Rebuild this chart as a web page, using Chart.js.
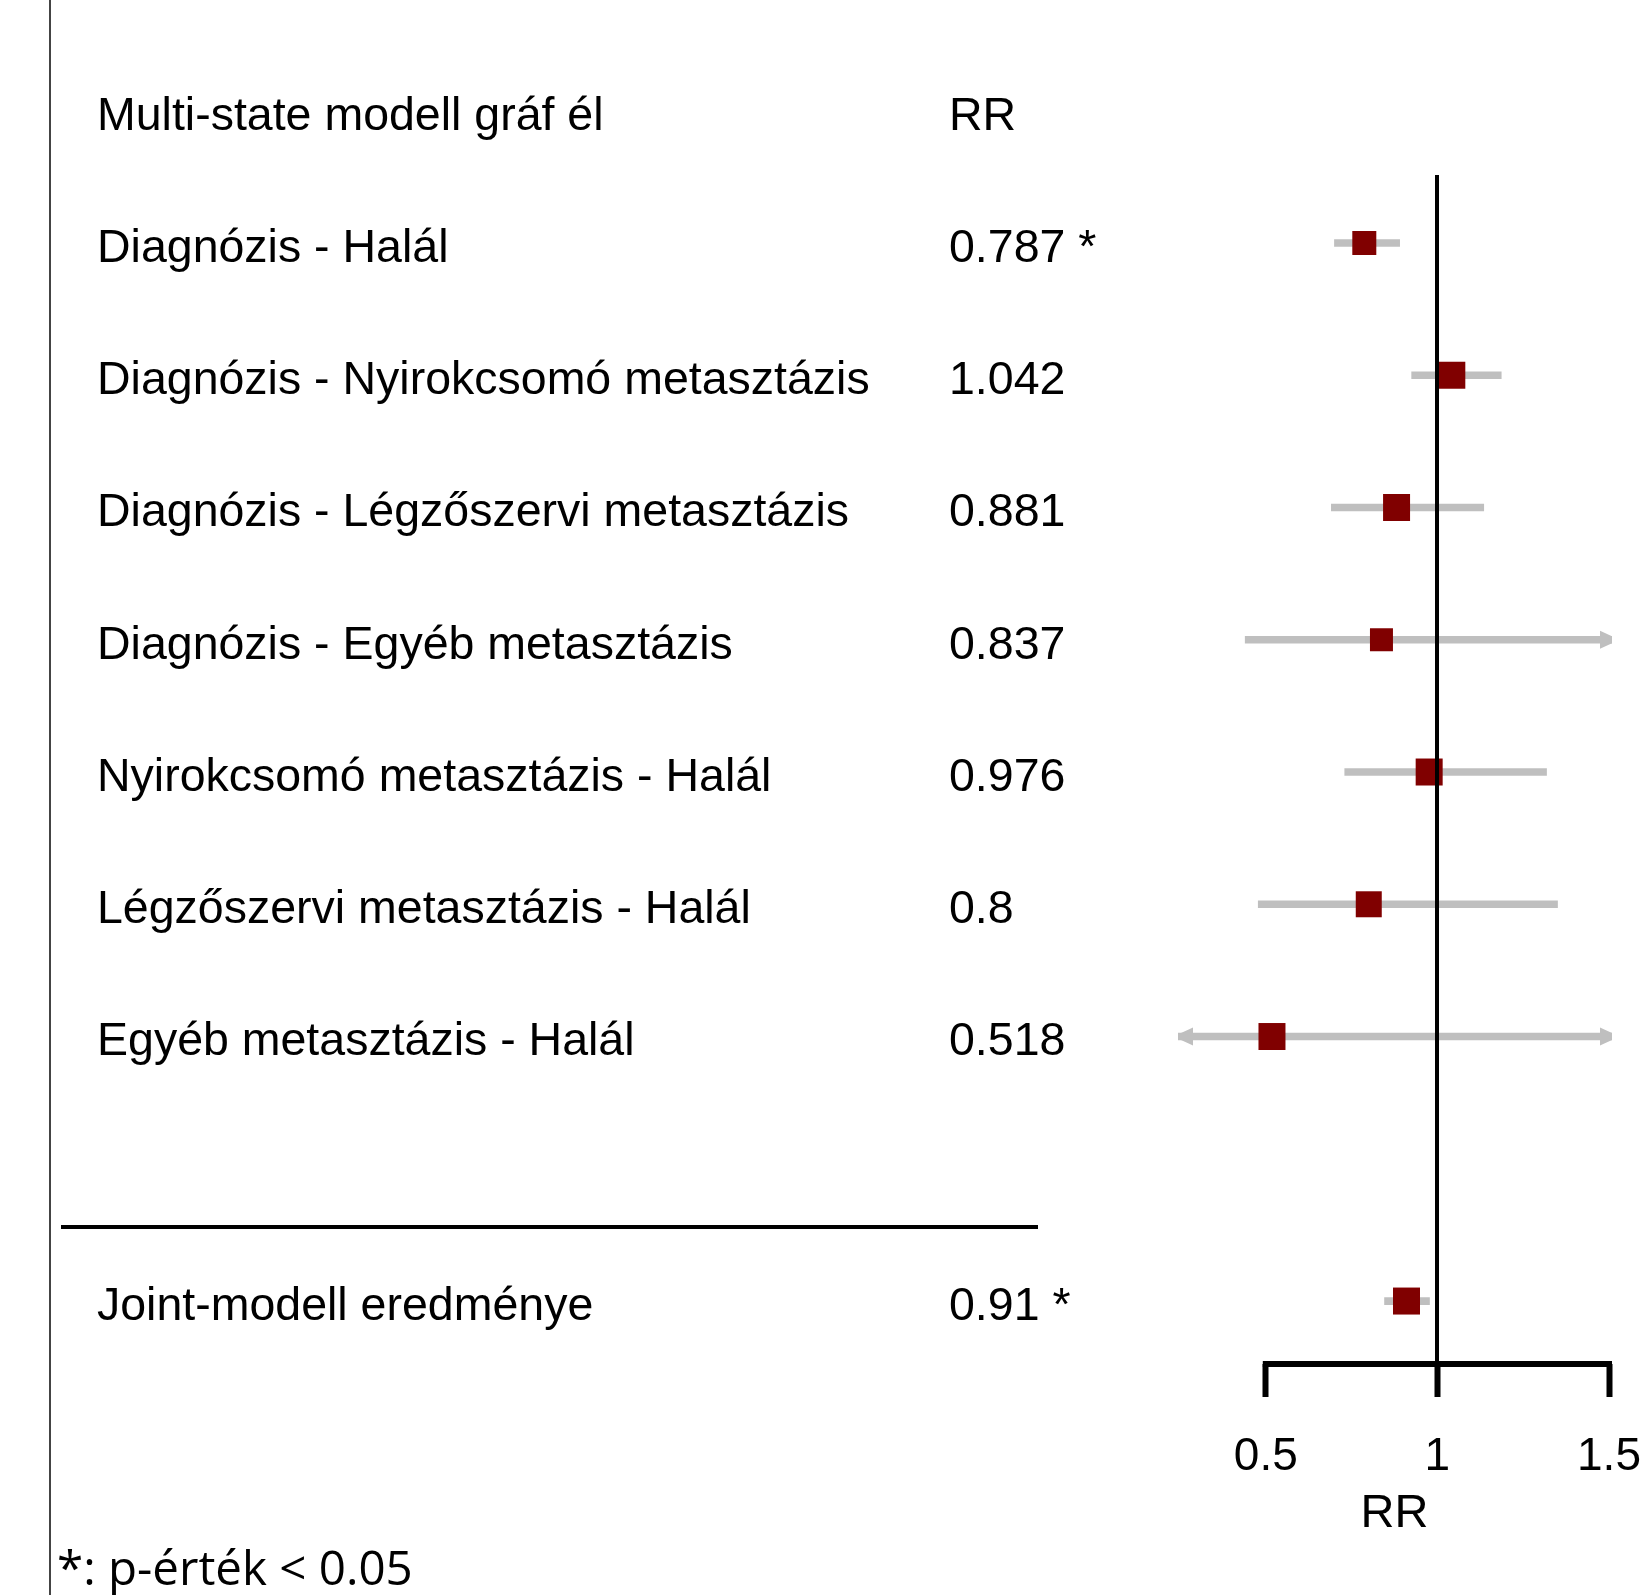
<!DOCTYPE html>
<html>
<head>
<meta charset="utf-8">
<script src="https://cdn.jsdelivr.net/npm/chart.js@4.4.1/dist/chart.umd.min.js"></script>
<style>
  html, body { margin: 0; padding: 0; background: #fff; }
  canvas { display: block; }
</style>
</head>
<body>
<canvas id="forest" width="1641" height="1595"></canvas>
<script>
// ---- data -------------------------------------------------------------
const headerLabel = 'Multi-state modell gráf él';
const headerValue = 'RR';
const edges = [
  'Diagnózis - Halál',
  'Diagnózis - Nyirokcsomó metasztázis',
  'Diagnózis - Légzőszervi metasztázis',
  'Diagnózis - Egyéb metasztázis',
  'Nyirokcsomó metasztázis - Halál',
  'Légzőszervi metasztázis - Halál',
  'Egyéb metasztázis - Halál',
  'Joint-modell eredménye'
];
const rowIndex    = [1, 2, 3, 4, 5, 6, 7, 9];
const rr          = [0.787, 1.042, 0.881, 0.837, 0.976, 0.8, 0.518, 0.91];
const ciLow       = [0.700, 0.925, 0.691, 0.440, 0.730, 0.478, 0.170, 0.846];
const ciHigh      = [0.890, 1.186, 1.135, 1.596, 1.318, 1.350, 1.580, 0.977];
const significant = [true, false, false, false, false, false, false, true];
const tickValues  = [0.5, 1, 1.5];
const tickLabels  = ['0.5', '1', '1.5'];
const axisTitle   = 'RR';
const footnote    = '*: p-érték < 0.05';

// ---- style ------------------------------------------------------------
const xRange   = [0.25, 1.5];          // clipping range of the interval lines
const yRange   = [0.486, 9.476];       // row positions (reversed)
const boxSide  = [24, 27, 27, 23, 27, 26, 27, 27];
const BOX_COLOR = '#800000';
const CI_COLOR  = '#bfbfbf';
const TEXT_FONT = '46.5px "Liberation Sans", Arial, sans-serif';
const FOOT_FONT = '47.5px "Open Sans", sans-serif';
const LABEL_X = 97;
const VALUE_X = 949;
const TEXT_DROP = 6;                    // table text sits slightly below the box centres

const forestDecor = {
  id: 'forestDecor',
  beforeDraw(chart) {
    const { ctx, width, height } = chart;
    ctx.save();
    ctx.fillStyle = '#fff';
    ctx.fillRect(0, 0, width, height);
    ctx.restore();
  },
  beforeDatasetsDraw(chart) {
    const { ctx, scales: { x, y } } = chart;
    ctx.save();

    // left frame line
    ctx.strokeStyle = '#444';
    ctx.lineWidth = 2;
    ctx.beginPath();
    ctx.moveTo(50, 0);
    ctx.lineTo(50, chart.height);
    ctx.stroke();

    // table columns
    ctx.fillStyle = '#000';
    ctx.font = TEXT_FONT;
    ctx.textAlign = 'left';
    ctx.textBaseline = 'middle';
    const headY = y.getPixelForValue(0) + TEXT_DROP;
    ctx.fillText(headerLabel, LABEL_X, headY);
    ctx.fillText(headerValue, VALUE_X, headY);
    edges.forEach((name, i) => {
      const py = y.getPixelForValue(rowIndex[i]) + TEXT_DROP;
      ctx.fillText(name, LABEL_X, py);
      ctx.fillText(String(rr[i]) + (significant[i] ? ' *' : ''), VALUE_X, py);
    });

    // separator above the pooled estimate
    const sy = y.getPixelForValue(8.44);
    ctx.strokeStyle = '#000';
    ctx.lineWidth = 4;
    ctx.beginPath();
    ctx.moveTo(61, sy);
    ctx.lineTo(1038, sy);
    ctx.stroke();

    // axis baseline spanning the labelled ticks
    ctx.lineWidth = 6;
    ctx.beginPath();
    ctx.moveTo(x.getPixelForValue(tickValues[0]) - 3, x.top);
    ctx.lineTo(x.getPixelForValue(tickValues[tickValues.length - 1]) + 3, x.top);
    ctx.stroke();

    // footnote
    ctx.font = FOOT_FONT;
    ctx.textBaseline = 'alphabetic';
    ctx.fillText(footnote, 57, 1585);
    ctx.restore();
  },
  afterDatasetsDraw(chart) {
    const { ctx, chartArea, scales: { x, y } } = chart;
    ctx.save();

    // arrow heads where an interval runs past the plotted range
    ctx.fillStyle = CI_COLOR;
    rowIndex.forEach((r, i) => {
      const py = y.getPixelForValue(r);
      if (ciHigh[i] > xRange[1]) {
        const tip = chartArea.right + 3;
        ctx.beginPath();
        ctx.moveTo(tip, py - 3.5);
        ctx.lineTo(tip, py + 3.5);
        ctx.lineTo(tip - 12, py + 9);
        ctx.lineTo(tip - 12, py - 9);
        ctx.closePath();
        ctx.fill();
      }
      if (ciLow[i] < xRange[0]) {
        const tip = chartArea.left + 1;
        ctx.beginPath();
        ctx.moveTo(tip, py - 3.5);
        ctx.lineTo(tip, py + 3.5);
        ctx.lineTo(tip + 12, py + 9);
        ctx.lineTo(tip + 12, py - 9);
        ctx.closePath();
        ctx.fill();
      }
    });

    // line of no effect (RR = 1)
    const px = Math.round(x.getPixelForValue(1));
    ctx.strokeStyle = '#000';
    ctx.lineWidth = 4;
    ctx.beginPath();
    ctx.moveTo(px, chartArea.top);
    ctx.lineTo(px, chartArea.bottom);
    ctx.stroke();
    ctx.restore();
  }
};

new Chart(document.getElementById('forest'), {
  type: 'scatter',
  data: {
    datasets: [
      {
        type: 'bar',
        indexAxis: 'y',
        data: rowIndex.map((r, i) => ({ y: r, x: [ciLow[i], ciHigh[i]] })),
        backgroundColor: CI_COLOR,
        borderWidth: 0,
        borderSkipped: false,
        barThickness: 7,
        clip: { left: 2, right: 3, top: false, bottom: false },
        order: 2
      },
      {
        type: 'scatter',
        data: rowIndex.map((r, i) => ({ x: rr[i], y: r })),
        pointStyle: 'rect',
        pointRadius: boxSide.map(s => s / Math.SQRT2),
        backgroundColor: BOX_COLOR,
        borderWidth: 0,
        clip: false,
        order: 1
      }
    ]
  },
  options: {
    responsive: false,
    devicePixelRatio: 1,
    animation: false,
    events: [],
    layout: { padding: { left: 1180, right: 32, top: 175, bottom: 0 } },
    plugins: { legend: { display: false }, tooltip: { enabled: false } },
    scales: {
      x: {
        type: 'linear',
        position: 'bottom',
        offset: false,
        min: xRange[0],
        max: xRange[1],
        afterBuildTicks: (scale) => { scale.ticks = tickValues.map(v => ({ value: v })); },
        afterFit: (scale) => { scale.height = 231; scale.paddingLeft = 0; scale.paddingRight = 0; },
        border: { display: false },
        grid: {
          offset: false,
          drawOnChartArea: false,
          drawTicks: true,
          tickLength: 33,
          tickWidth: 6,
          tickColor: '#000'
        },
        ticks: {
          autoSkip: false,
          maxRotation: 0,
          padding: 33,
          color: '#000',
          font: { family: '"Liberation Sans", Arial, sans-serif', size: 46 },
          callback: (value) => tickLabels[tickValues.indexOf(value)]
        },
        title: {
          display: true,
          text: axisTitle,
          color: '#000',
          font: { family: '"Liberation Sans", Arial, sans-serif', size: 47 },
          padding: { top: 0, bottom: 53 }
        }
      },
      y: {
        type: 'linear',
        display: false,
        offset: false,
        grid: { offset: false },
        reverse: true,
        min: yRange[0],
        max: yRange[1]
      }
    }
  },
  plugins: [forestDecor]
});
</script>
</body>
</html>
